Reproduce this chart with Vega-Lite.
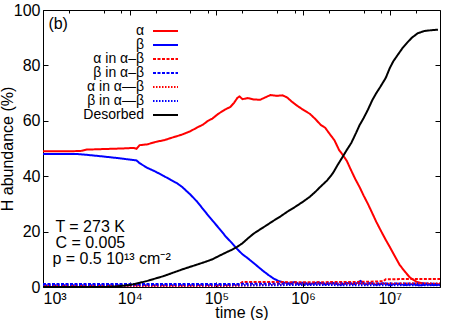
{
  "$schema": "https://vega.github.io/schema/vega-lite/v6.json",
  "width": 397,
  "height": 277,
  "autosize": {"type": "none"},
  "padding": {"left": 43, "top": 10, "right": 17, "bottom": 33},
  "background": "white",
  "config": {
    "font": "Liberation Sans",
    "view": {"stroke": null},
    "axis": {"grid": false, "labelFont": "Liberation Sans", "titleFont": "Liberation Sans", "labelFontSize": 16, "titleFontSize": 16, "titleFontWeight": "normal", "labelColor": "black", "titleColor": "black", "domainColor": "black", "tickColor": "black", "domainWidth": 1, "tickWidth": 1}
  },
  "datasets": {
    "curves": [
      {"s": "α", "t": 1000, "v": 49}, {"s": "α", "t": 2000, "v": 49}, {"s": "α", "t": 2700, "v": 49.1}, {"s": "α", "t": 3200, "v": 49.6}, {"s": "α", "t": 5000, "v": 49.8}, {"s": "α", "t": 8000, "v": 50}, {"s": "α", "t": 11000, "v": 50.2}, {"s": "α", "t": 12000, "v": 49.9}, {"s": "α", "t": 13000, "v": 51.2}, {"s": "α", "t": 16000, "v": 51.5}, {"s": "α", "t": 20000, "v": 52.4}, {"s": "α", "t": 25000, "v": 53}, {"s": "α", "t": 30000, "v": 53.8}, {"s": "α", "t": 40000, "v": 55}, {"s": "α", "t": 50000, "v": 56.2}, {"s": "α", "t": 60000, "v": 57.6}, {"s": "α", "t": 70000, "v": 58.6}, {"s": "α", "t": 80000, "v": 60}, {"s": "α", "t": 90000, "v": 60.8}, {"s": "α", "t": 105000, "v": 62.5}, {"s": "α", "t": 125000, "v": 64}, {"s": "α", "t": 145000, "v": 65}, {"s": "α", "t": 160000, "v": 66.5}, {"s": "α", "t": 175000, "v": 68.3}, {"s": "α", "t": 185000, "v": 68.8}, {"s": "α", "t": 200000, "v": 67.8}, {"s": "α", "t": 230000, "v": 68.2}, {"s": "α", "t": 270000, "v": 67.7}, {"s": "α", "t": 320000, "v": 67.6}, {"s": "α", "t": 370000, "v": 68.5}, {"s": "α", "t": 420000, "v": 69.3}, {"s": "α", "t": 500000, "v": 69}, {"s": "α", "t": 580000, "v": 69.2}, {"s": "α", "t": 650000, "v": 68.5}, {"s": "α", "t": 750000, "v": 66.8}, {"s": "α", "t": 850000, "v": 65.5}, {"s": "α", "t": 1000000, "v": 64}, {"s": "α", "t": 1200000, "v": 62.5}, {"s": "α", "t": 1400000, "v": 60.5}, {"s": "α", "t": 1600000, "v": 58.5}, {"s": "α", "t": 1800000, "v": 57.5}, {"s": "α", "t": 2000000, "v": 55.5}, {"s": "α", "t": 2300000, "v": 53}, {"s": "α", "t": 2600000, "v": 49.5}, {"s": "α", "t": 2900000, "v": 47.5}, {"s": "α", "t": 3200000, "v": 45.5}, {"s": "α", "t": 3600000, "v": 42}, {"s": "α", "t": 4000000, "v": 39}, {"s": "α", "t": 4500000, "v": 36}, {"s": "α", "t": 5000000, "v": 33}, {"s": "α", "t": 5600000, "v": 30}, {"s": "α", "t": 6300000, "v": 26.6}, {"s": "α", "t": 7000000, "v": 23.5}, {"s": "α", "t": 8000000, "v": 20}, {"s": "α", "t": 9000000, "v": 17}, {"s": "α", "t": 10000000, "v": 14.5}, {"s": "α", "t": 11500000, "v": 11}, {"s": "α", "t": 13000000, "v": 8}, {"s": "α", "t": 15000000, "v": 5.5}, {"s": "α", "t": 17000000, "v": 3.5}, {"s": "α", "t": 20000000, "v": 2}, {"s": "α", "t": 23000000, "v": 1.4}, {"s": "α", "t": 28000000, "v": 1.1}, {"s": "α", "t": 38000000, "v": 1.0},
      {"s": "β", "t": 1000, "v": 48}, {"s": "β", "t": 2500, "v": 48}, {"s": "β", "t": 3500, "v": 47.6}, {"s": "β", "t": 5000, "v": 47.1}, {"s": "β", "t": 7000, "v": 46.6}, {"s": "β", "t": 9000, "v": 46.2}, {"s": "β", "t": 12000, "v": 45.7}, {"s": "β", "t": 13000, "v": 44.7}, {"s": "β", "t": 16000, "v": 43}, {"s": "β", "t": 20000, "v": 41.6}, {"s": "β", "t": 25000, "v": 40}, {"s": "β", "t": 30000, "v": 38.6}, {"s": "β", "t": 35000, "v": 37.5}, {"s": "β", "t": 40000, "v": 36.2}, {"s": "β", "t": 50000, "v": 33.4}, {"s": "β", "t": 60000, "v": 30.8}, {"s": "β", "t": 75000, "v": 27}, {"s": "β", "t": 90000, "v": 24}, {"s": "β", "t": 110000, "v": 20.8}, {"s": "β", "t": 130000, "v": 18}, {"s": "β", "t": 150000, "v": 16}, {"s": "β", "t": 170000, "v": 14}, {"s": "β", "t": 200000, "v": 11.8}, {"s": "β", "t": 230000, "v": 10.4}, {"s": "β", "t": 280000, "v": 8.2}, {"s": "β", "t": 340000, "v": 6}, {"s": "β", "t": 400000, "v": 4.3}, {"s": "β", "t": 460000, "v": 3}, {"s": "β", "t": 520000, "v": 2.2}, {"s": "β", "t": 600000, "v": 1.6}, {"s": "β", "t": 700000, "v": 1.3}, {"s": "β", "t": 800000, "v": 1.8}, {"s": "β", "t": 900000, "v": 1.1}, {"s": "β", "t": 1000000, "v": 1.6}, {"s": "β", "t": 1200000, "v": 1.0}, {"s": "β", "t": 1500000, "v": 1.7}, {"s": "β", "t": 1800000, "v": 0.9}, {"s": "β", "t": 2200000, "v": 1.5}, {"s": "β", "t": 2700000, "v": 0.8}, {"s": "β", "t": 3200000, "v": 1.4}, {"s": "β", "t": 4000000, "v": 1.0}, {"s": "β", "t": 4600000, "v": 2.2}, {"s": "β", "t": 5200000, "v": 0.9}, {"s": "β", "t": 6000000, "v": 1.4}, {"s": "β", "t": 7000000, "v": 0.8}, {"s": "β", "t": 8500000, "v": 1.3}, {"s": "β", "t": 10000000, "v": 0.7}, {"s": "β", "t": 12000000, "v": 1.2}, {"s": "β", "t": 15000000, "v": 0.7}, {"s": "β", "t": 18000000, "v": 1.0}, {"s": "β", "t": 22000000, "v": 0.6}, {"s": "β", "t": 27000000, "v": 0.9}, {"s": "β", "t": 32000000, "v": 0.7}, {"s": "β", "t": 38000000, "v": 0.8},
      {"s": "α in α–β", "t": 1000, "v": 0.6}, {"s": "α in α–β", "t": 10000, "v": 0.6}, {"s": "α in α–β", "t": 100000, "v": 0.7}, {"s": "α in α–β", "t": 180000, "v": 0.8}, {"s": "α in α–β", "t": 200000, "v": 1.8}, {"s": "α in α–β", "t": 500000, "v": 1.8}, {"s": "α in α–β", "t": 1000000, "v": 1.7}, {"s": "α in α–β", "t": 3000000, "v": 1.8}, {"s": "α in α–β", "t": 6000000, "v": 1.9}, {"s": "α in α–β", "t": 8500000, "v": 2.1}, {"s": "α in α–β", "t": 9000000, "v": 2.8}, {"s": "α in α–β", "t": 20000000, "v": 2.9}, {"s": "α in α–β", "t": 38000000, "v": 2.9},
      {"s": "β in α–β", "t": 1000, "v": 1.1}, {"s": "β in α–β", "t": 10000, "v": 1.1}, {"s": "β in α–β", "t": 100000, "v": 1.1}, {"s": "β in α–β", "t": 1000000, "v": 1.2}, {"s": "β in α–β", "t": 10000000, "v": 1.3}, {"s": "β in α–β", "t": 38000000, "v": 1.2},
      {"s": "α in α—β", "t": 1000, "v": 0.3}, {"s": "α in α—β", "t": 100000, "v": 0.3}, {"s": "α in α—β", "t": 500000, "v": 0.8}, {"s": "α in α—β", "t": 10000000, "v": 1.2}, {"s": "α in α—β", "t": 38000000, "v": 1.3},
      {"s": "β in α—β", "t": 1000, "v": 0.6}, {"s": "β in α—β", "t": 100000, "v": 0.6}, {"s": "β in α—β", "t": 1000000, "v": 0.7}, {"s": "β in α—β", "t": 38000000, "v": 0.6},
      {"s": "Desorbed", "t": 1000, "v": 0}, {"s": "Desorbed", "t": 5000, "v": 0}, {"s": "Desorbed", "t": 7000, "v": 0.2}, {"s": "Desorbed", "t": 10000, "v": 0.7}, {"s": "Desorbed", "t": 13000, "v": 1.5}, {"s": "Desorbed", "t": 16000, "v": 2.2}, {"s": "Desorbed", "t": 20000, "v": 3.1}, {"s": "Desorbed", "t": 25000, "v": 4}, {"s": "Desorbed", "t": 30000, "v": 4.9}, {"s": "Desorbed", "t": 40000, "v": 6.3}, {"s": "Desorbed", "t": 50000, "v": 7.3}, {"s": "Desorbed", "t": 60000, "v": 8.1}, {"s": "Desorbed", "t": 75000, "v": 9.1}, {"s": "Desorbed", "t": 90000, "v": 10}, {"s": "Desorbed", "t": 110000, "v": 11.4}, {"s": "Desorbed", "t": 130000, "v": 12.5}, {"s": "Desorbed", "t": 150000, "v": 13.4}, {"s": "Desorbed", "t": 170000, "v": 14.3}, {"s": "Desorbed", "t": 200000, "v": 15.8}, {"s": "Desorbed", "t": 230000, "v": 17.5}, {"s": "Desorbed", "t": 270000, "v": 19.3}, {"s": "Desorbed", "t": 320000, "v": 20.8}, {"s": "Desorbed", "t": 380000, "v": 22.3}, {"s": "Desorbed", "t": 450000, "v": 23.8}, {"s": "Desorbed", "t": 550000, "v": 25.5}, {"s": "Desorbed", "t": 660000, "v": 27.2}, {"s": "Desorbed", "t": 800000, "v": 28.8}, {"s": "Desorbed", "t": 1000000, "v": 30.8}, {"s": "Desorbed", "t": 1200000, "v": 32.6}, {"s": "Desorbed", "t": 1400000, "v": 34.5}, {"s": "Desorbed", "t": 1600000, "v": 36.3}, {"s": "Desorbed", "t": 1900000, "v": 38.5}, {"s": "Desorbed", "t": 2200000, "v": 41}, {"s": "Desorbed", "t": 2500000, "v": 44}, {"s": "Desorbed", "t": 2800000, "v": 46.5}, {"s": "Desorbed", "t": 3200000, "v": 49.5}, {"s": "Desorbed", "t": 3600000, "v": 52}, {"s": "Desorbed", "t": 4000000, "v": 55}, {"s": "Desorbed", "t": 4500000, "v": 58.5}, {"s": "Desorbed", "t": 5000000, "v": 61}, {"s": "Desorbed", "t": 5600000, "v": 64}, {"s": "Desorbed", "t": 6300000, "v": 67.5}, {"s": "Desorbed", "t": 7000000, "v": 70}, {"s": "Desorbed", "t": 7800000, "v": 72.3}, {"s": "Desorbed", "t": 9000000, "v": 75.5}, {"s": "Desorbed", "t": 10000000, "v": 79}, {"s": "Desorbed", "t": 11000000, "v": 81.5}, {"s": "Desorbed", "t": 12500000, "v": 84}, {"s": "Desorbed", "t": 14000000, "v": 86.2}, {"s": "Desorbed", "t": 16000000, "v": 88.3}, {"s": "Desorbed", "t": 18000000, "v": 90}, {"s": "Desorbed", "t": 21000000, "v": 91.6}, {"s": "Desorbed", "t": 25000000, "v": 92.4}, {"s": "Desorbed", "t": 30000000, "v": 92.7}, {"s": "Desorbed", "t": 36000000, "v": 92.9}
    ],
    "notes": [
      {"t": 1154, "v": 93, "txt": "(b)"},
      {"t": 1390, "v": 20, "txt": "T = 273 K"},
      {"t": 1390, "v": 14, "txt": "C = 0.005"},
      {"t": 1283, "v": 8.3, "txt": "p = 0.5 10¹³ cm⁻²"}
    ]
  },
  "layer": [
    {
      "data": {"name": "curves"},
      "mark": {"type": "line", "clip": true},
      "encoding": {
        "x": {"field": "t", "type": "quantitative", "scale": {"type": "log", "domain": [1000, 38000000], "nice": false},
              "axis": {"orient": "bottom", "title": "time (s)", "values": [1000, 10000, 100000, 1000000, 10000000], "tickSize": -5, "labelPadding": 8, "titlePadding": -2,
                       "labelExpr": "datum.value == 1000 ? '10³' : datum.value == 10000 ? '10⁴' : datum.value == 100000 ? '10⁵' : datum.value == 1000000 ? '10⁶' : '10⁷'"}},
        "y": {"field": "v", "type": "quantitative", "scale": {"domain": [0, 100], "nice": false},
              "axis": {"orient": "left", "title": "H abundance (%)", "values": [0, 20, 40, 60, 80, 100], "tickSize": -5, "labelPadding": 8, "titlePadding": -2}},
        "color": {"field": "s", "type": "nominal",
                  "scale": {"domain": ["α", "β", "α in α–β", "β in α–β", "α in α—β", "β in α—β", "Desorbed"], "range": ["#ff0000", "#0000ff", "#ff0000", "#0000ff", "#ff0000", "#0000ff", "#000000"]},
                  "legend": {"orient": "none", "legendX": 115.5, "legendY": 14, "title": null, "symbolType": "M-2.5,0H2.5", "symbolSize": 100, "labelAlign": "right", "labelOffset": -28.5, "labelFontSize": 14, "labelFont": "Liberation Sans", "labelColor": "black", "rowPadding": 0, "padding": 0, "labelBaseline": "middle", "labelLimit": 300}},
        "strokeDash": {"field": "s", "type": "nominal",
                  "scale": {"domain": ["α", "β", "α in α–β", "β in α–β", "α in α—β", "β in α—β", "Desorbed"], "range": [[1, 0], [1, 0], [3, 1.5], [3, 1.5], [1.5, 1.5], [1.5, 1.5], [1, 0]]}},
        "strokeWidth": {"field": "s", "type": "nominal",
                  "scale": {"domain": ["α", "β", "α in α–β", "β in α–β", "α in α—β", "β in α—β", "Desorbed"], "range": [2, 2, 2, 2, 1.5, 1.5, 2]}}
      }
    },
    {
      "data": {"name": "curves"},
      "transform": [{"filter": "false"}],
      "mark": "point",
      "encoding": {
        "x": {"field": "t", "type": "quantitative", "scale": {"type": "log", "domain": [1000, 38000000], "nice": false},
              "axis": {"orient": "top", "title": null, "labels": false, "values": [1000, 10000, 100000, 1000000, 10000000], "tickSize": -5}},
        "y": {"field": "v", "type": "quantitative", "scale": {"domain": [0, 100], "nice": false},
              "axis": {"orient": "right", "title": null, "labels": false, "values": [0, 20, 40, 60, 80, 100], "tickSize": -5}}
      }
    },
    {
      "data": {"name": "curves"},
      "transform": [{"filter": "false"}],
      "mark": "point",
      "encoding": {
        "x": {"field": "t", "type": "quantitative", "scale": {"type": "log", "domain": [1000, 38000000], "nice": false},
              "axis": {"orient": "top", "title": null, "labels": false, "domain": false, "values": [2000, 5000, 8000, 20000, 50000, 80000, 200000, 500000, 800000, 2000000, 5000000, 8000000, 20000000], "tickSize": -3}},
        "y": {"field": "v", "type": "quantitative", "scale": {"domain": [0, 100], "nice": false}, "axis": null}
      }
    },
    {
      "data": {"name": "notes"},
      "mark": {"type": "text", "align": "left", "baseline": "alphabetic", "fontSize": 16, "font": "Liberation Sans", "color": "black"},
      "encoding": {
        "x": {"field": "t", "type": "quantitative", "scale": {"type": "log", "domain": [1000, 38000000], "nice": false}, "axis": null},
        "y": {"field": "v", "type": "quantitative", "scale": {"domain": [0, 100], "nice": false}, "axis": null},
        "text": {"field": "txt"}
      }
    }
  ],
  "resolve": {"axis": {"x": "independent", "y": "independent"}}
}
